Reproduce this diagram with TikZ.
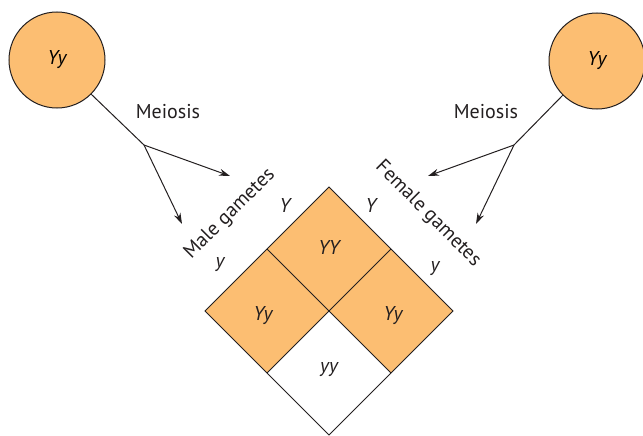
\documentclass[tikz,border=0pt]{standalone}
\usepackage{fontspec}
\setmainfont{PT Sans}
\usepackage{tikz}
\usetikzlibrary{arrows.meta,positioning,calc}
\definecolor{Pea}{HTML}{FCBE72}
\definecolor{Ink}{HTML}{231F20}

\begin{document}
\begin{tikzpicture}[
    x=1pt,y=-1pt,
    parent/.style={circle,draw=Ink,line width=1pt,fill=Pea,minimum size=96pt,inner sep=0pt,font=\fontsize{20}{24}\selectfont\itshape},
    lbl/.style={font=\fontsize{20}{24}\selectfont,text=Ink,inner sep=1pt},
    allele/.style={font=\fontsize{20}{24}\selectfont\itshape,text=Ink,inner sep=1pt},
    cell/.style={draw=Ink,line width=1pt},
    >={Stealth[length=11pt,width=7pt]}
  ]
  \useasboundingbox (0,0) rectangle (643,436);
  % Parents
  \node[parent] (pm) at (57,60) {Yy};
  \node[parent] (pf) at (597,61) {Yy};
  % Meiosis
  \coordinate (bm) at (144,145);
  \coordinate (bf) at (514,145);
  \coordinate (m1) at (230,176);
  \coordinate (m2) at (182,224);
  \coordinate (f1) at (428,176);
  \coordinate (f2) at (476,224);
  \draw[Ink,line width=1pt] (pm.-45) -- (bm);
  \draw[Ink,line width=1pt] (pf.-135) -- (bf);
  \draw[->,Ink,line width=1pt] (bm) -- (m1);
  \draw[->,Ink,line width=1pt] (bm) -- (m2);
  \draw[->,Ink,line width=1pt] (bf) -- (f1);
  \draw[->,Ink,line width=1pt] (bf) -- (f2);
  \node[lbl] (mei1) at (168,112) {Meiosis};
  \node[lbl] (mei2) at (486,112) {Meiosis};
  % Gametes
  \node[lbl,rotate=45] (male) at (230,214) {Male gametes};
  \node[lbl,rotate=-45] (female) at (428,214) {Female gametes};
  % Punnett square
  \coordinate (t) at (329,187);
  \coordinate (l) at (205,311);
  \coordinate (r) at (453,311);
  \coordinate (b) at (329,435);
  \coordinate (c) at (329,311);
  \coordinate (tl) at ($(t)!0.5!(l)$);
  \coordinate (tr) at ($(t)!0.5!(r)$);
  \coordinate (bl) at ($(b)!0.5!(l)$);
  \coordinate (br) at ($(b)!0.5!(r)$);
  \fill[Pea] (t) -- (r) -- (br) -- (c) -- (bl) -- (l) -- cycle;
  \draw[cell] (t) -- (r) -- (b) -- (l) -- cycle;
  \draw[cell] (tl) -- (br);
  \draw[cell] (tr) -- (bl);
  \node[allele] (yy1) at (329,247) {YY};
  \node[allele] (yy2) at (263,316) {Yy};
  \node[allele] (yy3) at (393,316) {Yy};
  \node[allele] (yy4) at (329,370) {yy};
  % Alleles
  \node[allele] (gm1) at (285,205) {Y};
  \node[allele] (gm2) at (220,265) {y};
  \node[allele] (gf1) at (371,205) {Y};
  \node[allele] (gf2) at (435,269) {y};
\end{tikzpicture}
\end{document}
